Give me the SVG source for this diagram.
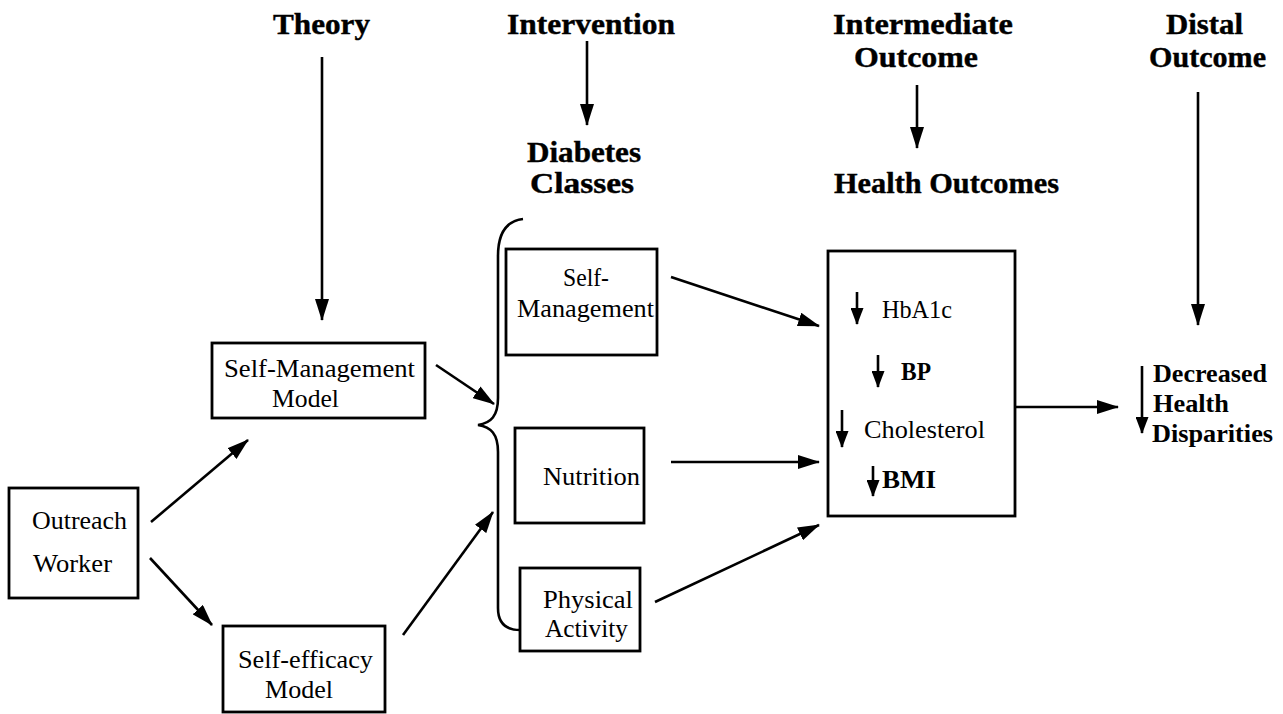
<svg xmlns="http://www.w3.org/2000/svg" width="1283" height="714" viewBox="0 0 1283 714" font-family="Liberation Serif, serif">
<style>
.hd{font-weight:bold;font-size:29px;fill:#000;stroke:#000;stroke-width:0.4}
.tx{font-size:25px;fill:#000}
.tb{font-size:25px;font-weight:bold;fill:#000}
.box{fill:#fff;stroke:#000;stroke-width:2.8}
.ln{fill:none;stroke:#000;stroke-width:2.6}
.big{marker-end:url(#ah)}
.sm{marker-end:url(#ahs)}
</style>
<defs>
<marker id="ah" viewBox="0 0 22 14" markerWidth="22" markerHeight="14" markerUnits="userSpaceOnUse" refX="21" refY="7" orient="auto">
<path d="M0,0 L22,7 L0,14 z" fill="#000"/>
</marker>
<marker id="ahs" viewBox="0 0 17 13" markerWidth="17" markerHeight="13" markerUnits="userSpaceOnUse" refX="16" refY="6.5" orient="auto">
<path d="M0,0 L17,6.5 L0,13 z" fill="#000"/>
</marker>
</defs>
<rect width="1283" height="714" fill="#fff"/>

<g id="headers">
<text class="hd" x="273" y="34" textLength="97" lengthAdjust="spacingAndGlyphs">Theory</text>
<text class="hd" x="507" y="34" textLength="168" lengthAdjust="spacingAndGlyphs">Intervention</text>
<text class="hd" x="833" y="34" textLength="180" lengthAdjust="spacingAndGlyphs">Intermediate</text>
<text class="hd" x="854" y="67" textLength="124" lengthAdjust="spacingAndGlyphs">Outcome</text>
<text class="hd" x="1166" y="34" textLength="77" lengthAdjust="spacingAndGlyphs">Distal</text>
<text class="hd" x="1149" y="67" textLength="117" lengthAdjust="spacingAndGlyphs">Outcome</text>
</g>

<g id="diabetes-classes">
<text class="hd" x="527" y="162" textLength="114" lengthAdjust="spacingAndGlyphs">Diabetes</text>
<text class="hd" x="530" y="193" textLength="104" lengthAdjust="spacingAndGlyphs">Classes</text>
</g>

<g id="health-outcomes-label">
<text class="hd" x="834" y="193" textLength="225" lengthAdjust="spacingAndGlyphs">Health Outcomes</text>
</g>

<g id="outreach-worker">
<rect class="box" x="9" y="488" width="129" height="110"/>
<text class="tx" x="32" y="529" textLength="95" lengthAdjust="spacingAndGlyphs">Outreach</text>
<text class="tx" x="33" y="572" textLength="79" lengthAdjust="spacingAndGlyphs">Worker</text>
</g>

<g id="self-management-model">
<rect class="box" x="212" y="343" width="213" height="75"/>
<text class="tx" x="224" y="377" textLength="191" lengthAdjust="spacingAndGlyphs">Self-Management</text>
<text class="tx" x="272" y="407" textLength="67" lengthAdjust="spacingAndGlyphs">Model</text>
</g>

<g id="self-efficacy-model">
<rect class="box" x="223" y="626" width="162" height="86"/>
<text class="tx" x="238" y="668" textLength="135" lengthAdjust="spacingAndGlyphs">Self-efficacy</text>
<text class="tx" x="265" y="698" textLength="68" lengthAdjust="spacingAndGlyphs">Model</text>
</g>

<g id="brace">
<path class="ln" d="M523,219 C506,221 498,234 498,256 L498,398 C498,416 491,423 478,425 C491,427 498,434 498,452 L498,608 C498,622 505,630 520,630"/>
</g>

<g id="self-management">
<rect class="box" x="506" y="249" width="151" height="106"/>
<text class="tx" x="563" y="286" textLength="46" lengthAdjust="spacingAndGlyphs">Self-</text>
<text class="tx" x="517" y="317" textLength="137" lengthAdjust="spacingAndGlyphs">Management</text>
</g>

<g id="nutrition">
<rect class="box" x="515" y="428" width="129" height="95"/>
<text class="tx" x="543" y="485" textLength="97" lengthAdjust="spacingAndGlyphs">Nutrition</text>
</g>

<g id="physical-activity">
<rect class="box" x="520" y="568" width="120" height="83"/>
<text class="tx" x="543" y="608" textLength="90" lengthAdjust="spacingAndGlyphs">Physical</text>
<text class="tx" x="545" y="637" textLength="83" lengthAdjust="spacingAndGlyphs">Activity</text>
</g>

<g id="health-outcomes">
<rect class="box" x="828" y="251" width="187" height="265"/>
<line class="ln sm" x1="857" y1="292" x2="857" y2="324"/>
<text class="tx" x="882" y="318" textLength="70" lengthAdjust="spacingAndGlyphs">HbA1c</text>
<line class="ln sm" x1="878" y1="355" x2="878" y2="387"/>
<text class="tb" x="901" y="380" textLength="30" lengthAdjust="spacingAndGlyphs">BP</text>
<line class="ln sm" x1="842" y1="410" x2="842" y2="447"/>
<text class="tx" x="864" y="438" textLength="121" lengthAdjust="spacingAndGlyphs">Cholesterol</text>
<line class="ln sm" x1="873" y1="466" x2="873" y2="496"/>
<text class="tb" x="882" y="488" textLength="54" lengthAdjust="spacingAndGlyphs">BMI</text>
</g>

<g id="decreased-health-disparities">
<line class="ln sm" x1="1142" y1="366" x2="1142" y2="433"/>
<text class="tb" x="1153" y="382" textLength="114" lengthAdjust="spacingAndGlyphs">Decreased</text>
<text class="tb" x="1153" y="412" textLength="76" lengthAdjust="spacingAndGlyphs">Health</text>
<text class="tb" x="1152" y="442" textLength="121" lengthAdjust="spacingAndGlyphs">Disparities</text>
</g>

<g id="connectors">
<line class="ln big" x1="322" y1="57" x2="322" y2="320"/>
<line class="ln big" x1="587" y1="41" x2="587" y2="125"/>
<line class="ln big" x1="917" y1="85" x2="917" y2="148"/>
<line class="ln big" x1="1198" y1="92" x2="1198" y2="325"/>
<line class="ln big" x1="151" y1="522" x2="248" y2="440"/>
<line class="ln big" x1="150" y1="558" x2="212" y2="625"/>
<line class="ln big" x1="436" y1="365" x2="494" y2="404"/>
<line class="ln big" x1="403" y1="635" x2="493" y2="512"/>
<line class="ln big" x1="671" y1="277" x2="819" y2="326"/>
<line class="ln big" x1="671" y1="462" x2="819" y2="462"/>
<line class="ln big" x1="655" y1="602" x2="819" y2="525"/>
<line class="ln big" x1="1016" y1="407" x2="1118" y2="407"/>
</g>
</svg>
